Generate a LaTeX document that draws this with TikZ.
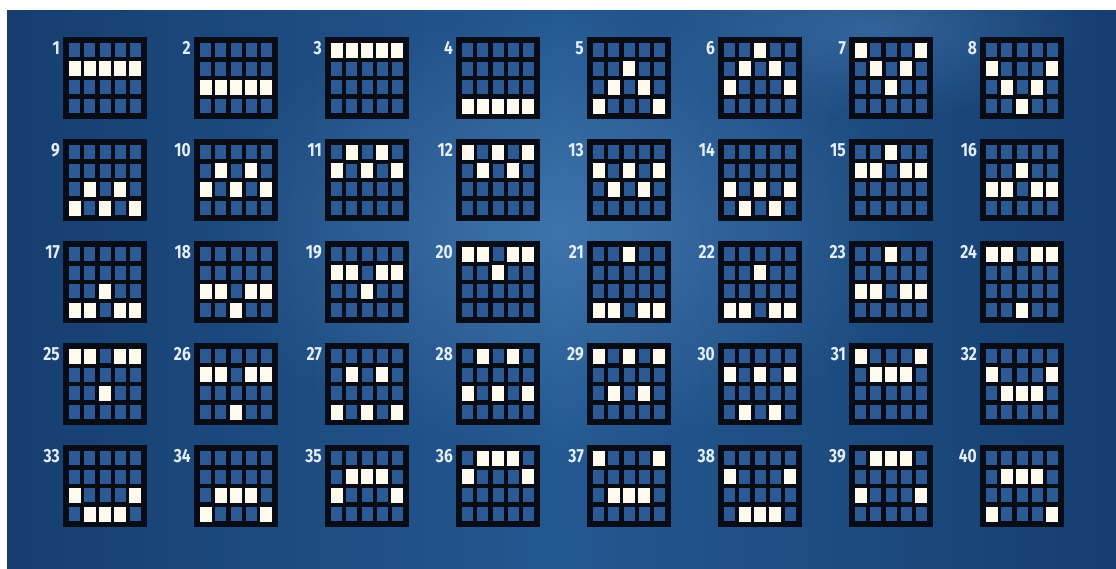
\documentclass[tikz,border=0pt]{standalone}
\usepackage{fontspec}
\setmainfont{Fira Sans}
\newfontfamily\numfont[FakeStretch=0.82]{Fira Sans}
\usetikzlibrary{shadings,fadings}
\definecolor{bgdark}{RGB}{22,62,112}
\definecolor{bgmid}{RGB}{36,88,144}
\definecolor{bglight}{RGB}{95,150,205}
\definecolor{cellblue}{RGB}{44,90,148}
\definecolor{cellwhite}{RGB}{255,250,238}
\definecolor{gridblack}{RGB}{8,12,22}
\definecolor{numcol}{RGB}{228,238,250}
\tikzfading[name=glow, inner color=transparent!0, outer color=transparent!100]
\tikzset{
  gridbox/.style={fill=gridblack, draw=none, minimum width=84pt, minimum height=82pt, inner sep=0pt},
  bluecell/.style={fill=cellblue, draw=none, minimum width=11pt, minimum height=14pt, inner sep=0pt},
  whitecell/.style={fill=cellwhite, draw=none, minimum width=12pt, minimum height=15pt, inner sep=0pt},
  lbl/.style={text=numcol, font=\numfont\bfseries\fontsize{19pt}{19pt}\selectfont, inner sep=0pt, anchor=north east}
}
\begin{document}
\begin{tikzpicture}[x=1pt,y=-1pt]
\useasboundingbox (0,0) rectangle (1116,568);
\fill[white] (0,0) rectangle (1116,568);
\shade[left color=bgdark, right color=bgdark, middle color=bgmid] (7,10) rectangle (1116,568);
\begin{scope}
\clip (7,10) rectangle (1116,568);
\fill[bglight, opacity=0.45, path fading=glow] (560,230) ellipse (360 and 220);
\fill[bglight, opacity=0.35, path fading=glow] (870,30) ellipse (220 and 90);
\end{scope}
\foreach \n/\pa/\pb/\pc/\pd/\pe [count=\k from 0] in {
 1/1/1/1/1/1, 2/2/2/2/2/2, 3/0/0/0/0/0, 4/3/3/3/3/3,
 5/3/2/1/2/3, 6/2/1/0/1/2, 7/0/1/2/1/0, 8/1/2/3/2/1,
 9/3/2/3/2/3, 10/2/1/2/1/2, 11/1/0/1/0/1, 12/0/1/0/1/0,
 13/1/2/1/2/1, 14/2/3/2/3/2, 15/1/1/0/1/1, 16/2/2/1/2/2,
 17/3/3/2/3/3, 18/2/2/3/2/2, 19/1/1/2/1/1, 20/0/0/1/0/0,
 21/3/3/0/3/3, 22/3/3/1/3/3, 23/2/2/0/2/2, 24/0/0/3/0/0,
 25/0/0/2/0/0, 26/1/1/3/1/1, 27/3/1/3/1/3, 28/2/0/2/0/2,
 29/0/2/0/2/0, 30/1/3/1/3/1, 31/0/1/1/1/0, 32/1/2/2/2/1,
 33/2/3/3/3/2, 34/3/2/2/2/3, 35/2/1/1/1/2, 36/1/0/0/0/1,
 37/0/2/2/2/0, 38/1/3/3/3/1, 39/2/0/0/0/2, 40/3/1/1/1/3} {
  \pgfmathtruncatemacro\gi{mod(\k,8)}
  \pgfmathtruncatemacro\gj{div(\k,8)}
  \pgfmathsetmacro\xo{63+131*\gi}
  \pgfmathsetmacro\yo{37+102*\gj}
  \node[gridbox] (g\n) at (\xo+42,\yo+41) {};
  \node[lbl] (l\n) at (\xo-3,\yo+4) {\n};
  \foreach \v [count=\cc from 0] in {\pa,\pb,\pc,\pd,\pe} {
    \foreach \r in {0,1,2,3} {
      \pgfmathsetmacro\cx{\xo+11.6+15.2*\cc}
      \pgfmathsetmacro\cy{\yo+13+18.7*\r}
      \ifnum\r=\v
        \node[whitecell] (c\n-\r-\cc) at (\cx,\cy) {};
      \else
        \node[bluecell] (c\n-\r-\cc) at (\cx,\cy) {};
      \fi
    }
  }
}
\end{tikzpicture}
\end{document}
